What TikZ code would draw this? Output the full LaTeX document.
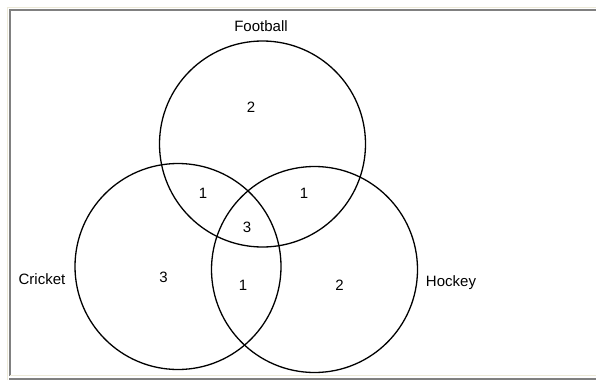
\documentclass[tikz,border=0pt]{standalone}
\usepackage{fontspec}
\setmainfont{Liberation Sans}
\definecolor{framegray}{RGB}{128,128,128}
\definecolor{framecream}{RGB}{236,233,216}
\begin{document}
\begin{tikzpicture}[x=1pt,y=-1pt,
  setcircle/.style={draw=black,line width=1.3pt},
  lbl/.style={font=\fontsize{15}{17}\selectfont,inner sep=0pt},
  num/.style={font=\fontsize{15}{17}\selectfont,inner sep=0pt}]
\useasboundingbox (0,0) rectangle (596,380);
\fill[white] (0,0) rectangle (596,380);
% window frame
\draw[framecream,line width=1.5pt] (7.5,380) -- (7.5,7.5) -- (596,7.5);
\draw[framegray,line width=2pt] (10,376) -- (10,10) -- (596,10);
\draw[framecream,line width=1.5pt] (10,375.5) -- (596,375.5);
\draw[framegray,line width=2pt] (9,378.5) -- (596,378.5);
% circles
\node[setcircle,circle,minimum size=206pt,inner sep=0pt] (football) at (262.5,144) {};
\node[setcircle,circle,minimum size=206pt,inner sep=0pt] (cricket) at (178,266.5) {};
\node[setcircle,circle,minimum size=206pt,inner sep=0pt] (hockey) at (314.5,269.5) {};
% labels
\node[lbl] (lfoot) at (261,26) {Football};
\node[lbl] (lcric) at (42,279) {Cricket};
\node[lbl] (lhock) at (451,283) {Hockey};
% counts
\node[num] (n1) at (251,107) {2};
\node[num] (n2) at (203,193) {1};
\node[num] (n3) at (304,193) {1};
\node[num] (n4) at (247,227) {3};
\node[num] (n5) at (163.5,277) {3};
\node[num] (n6) at (243,285) {1};
\node[num] (n7) at (339.5,285) {2};
\end{tikzpicture}
\end{document}
